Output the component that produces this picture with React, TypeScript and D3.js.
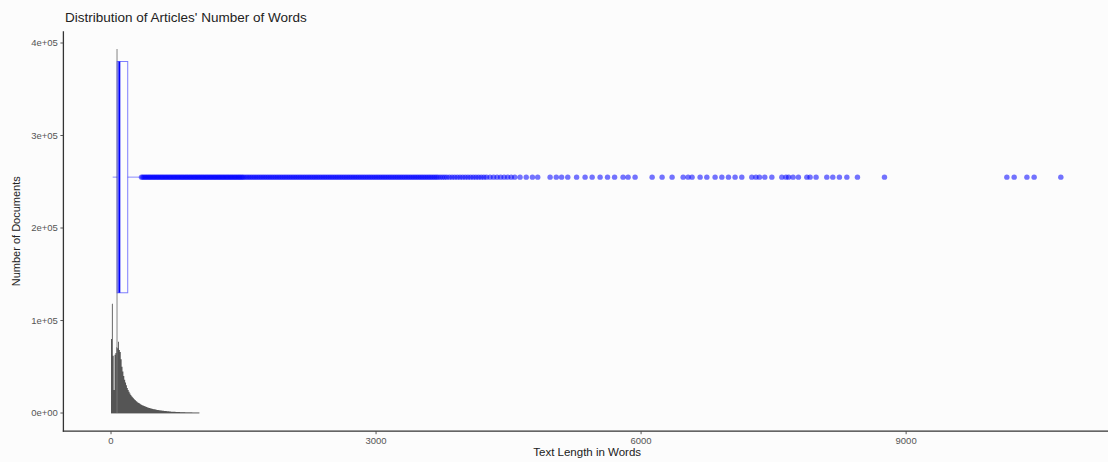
import React from "react";
import * as d3 from "d3";

// Histogram: counts per 10-word bin, from 0 to 1000 words
const binWidth = 10;
const histCounts = [
  80000, 118000, 62000, 25000, 63000, 65000, 71000, 70000, 77000, 68000,
  66000, 58000, 50000, 45000, 40000, 36000, 33000, 30000, 27000, 25000,
  23000, 21000, 19500, 18000, 17000, 16000, 15000, 14000, 13000, 12200,
  11500, 10800, 10200, 9600, 9000, 8500, 8000, 7600, 7200, 6800,
  6400, 6100, 5800, 5500, 5200, 4900, 4600, 4400, 4200, 4000,
  3800, 3600, 3400, 3250, 3100, 2950, 2800, 2650, 2500, 2400,
  2300, 2200, 2100, 2000, 1900, 1800, 1700, 1600, 1500, 1450,
  1400, 1300, 1250, 1200, 1150, 1100, 1050, 1000, 950, 900,
  850, 800, 760, 720, 680, 640, 600, 570, 540, 510,
  480, 450, 420, 400, 380, 360, 340, 320, 300, 280,
];

// Boxplot summary (text length in words), drawn horizontally at y = boxCenter
const boxStats = { lower: 19, q1: 70, median: 94, q3: 189, upper: 328 };
const boxBottom = 130000;
const boxTop = 380000;
const boxCenter = 255000;
const refLineX = 68;
const refLineTop = 393500;

// Outliers (words)
const outliersDense = [
  345, 360, 375, 390, 405, 420, 435, 450, 465, 480, 495, 510, 525, 540, 555, 570,
  585, 600, 615, 630, 645, 660, 675, 690, 705, 720, 735, 750, 765, 780, 795, 810,
  825, 840, 855, 870, 885, 900, 915, 930, 945, 960, 975, 990, 1005, 1020, 1035,
  1050, 1065, 1080, 1095, 1110, 1125, 1140, 1155, 1170, 1185, 1200, 1215, 1230,
  1245, 1260, 1275, 1290, 1305, 1320, 1335, 1350, 1365, 1380, 1395, 1410, 1425,
  1440, 1455, 1470, 1485, 1500, 1520, 1540, 1560, 1580, 1600, 1620, 1640, 1660,
  1680, 1700, 1720, 1740, 1760, 1780, 1800, 1820, 1840, 1860, 1880, 1900, 1920,
  1940, 1960, 1980, 2000, 2020, 2040, 2060, 2080, 2100, 2120, 2140, 2160, 2180,
  2200, 2220, 2240, 2260, 2280, 2300, 2320, 2340, 2360, 2380, 2400, 2420, 2440,
  2460, 2480, 2500, 2520, 2540, 2560, 2580, 2600, 2620, 2640, 2660, 2680, 2700,
  2720, 2740, 2760, 2780, 2800, 2820, 2840, 2860, 2880, 2900, 2920, 2940, 2960,
  2980, 3000, 3020, 3040, 3060, 3080, 3100, 3120, 3140, 3160, 3180, 3200, 3220,
  3240, 3260, 3280, 3300, 3320, 3340, 3360, 3380, 3400, 3420, 3440, 3460, 3480,
  3500, 3520, 3540, 3560, 3580, 3600, 3620, 3640, 3660, 3680, 3700, 3725, 3750,
  3775, 3800, 3830, 3860, 3890, 3920, 3950, 3980, 4010, 4040, 4070, 4100, 4130,
  4160, 4190, 4220, 4250, 4290, 4330, 4370, 4410, 4450, 4490, 4530, 4570,
];
const outliersSparse = [
  4630, 4700, 4770, 4830, 4970, 5040, 5100, 5170, 5270, 5366, 5446, 5536, 5620,
  5700, 5796, 5853, 5932, 6125, 6238, 6351, 6476, 6532, 6577, 6668, 6744, 6838,
  6914, 6989, 7064, 7140, 7253, 7300, 7340, 7400, 7480, 7593, 7640, 7670, 7720,
  7781, 7876, 7913, 7981, 8102, 8170, 8245, 8329, 8449, 8755, 10140, 10223,
  10367, 10449, 10751,
];

const xTicks = [0, 3000, 6000, 9000];
const yTicks = [0, 100000, 200000, 300000, 400000];
const yTickLabels = ["0e+00", "1e+05", "2e+05", "3e+05", "4e+05"];

const title = "Distribution of Articles' Number of Words";
const xTitle = "Text Length in Words";
const yTitle = "Number of Documents";

export default function App() {
  const W = 1108;
  const H = 462;
  const left = 63.4;
  const right = 1111;
  const top = 31.3;
  const bottom = 431.2;

  const x = d3.scaleLinear().domain([-539, 11319]).range([left, right]);
  const y = d3.scaleLinear().domain([-19650, 412650]).range([bottom, top]);

  const font = "'Liberation Sans', Arial, Helvetica, sans-serif";
  const outliers = [...outliersDense, ...outliersSparse];

  // histogram as one step-shaped path (avoids hairline gaps between thin bars)
  const p = d3.path();
  p.moveTo(x(0), y(0));
  histCounts.forEach((c, i) => {
    p.lineTo(x(i * binWidth), y(c));
    p.lineTo(x((i + 1) * binWidth), y(c));
  });
  p.lineTo(x(histCounts.length * binWidth), y(0));
  p.closePath();

  return (
    <svg
      width={W}
      height={H}
      style={{ position: "absolute", left: 0, top: 0, background: "#fcfcfc" }}
      fontFamily={font}
    >
      <rect x={0} y={0} width={W} height={H} fill="#fcfcfc" />

      {/* histogram */}
      <path d={p.toString()} fill="#555555" />
      <line
        x1={x(0)}
        x2={x(histCounts.length * binWidth)}
        y1={y(0)}
        y2={y(0)}
        stroke="#555555"
        strokeWidth={0.8}
      />

      {/* reference line */}
      <line
        x1={x(refLineX)}
        x2={x(refLineX)}
        y1={y(refLineTop)}
        y2={y(0)}
        stroke="#777777"
        strokeWidth={0.9}
      />

      {/* boxplot */}
      <g>
        <line
          x1={x(boxStats.lower)}
          x2={x(boxStats.q1)}
          y1={y(boxCenter)}
          y2={y(boxCenter)}
          stroke="#0000ff"
          strokeOpacity={0.45}
          strokeWidth={1}
        />
        <line
          x1={x(boxStats.q3)}
          x2={x(boxStats.upper)}
          y1={y(boxCenter)}
          y2={y(boxCenter)}
          stroke="#0000ff"
          strokeOpacity={0.45}
          strokeWidth={1}
        />
        <rect
          x={x(boxStats.q1)}
          width={x(boxStats.q3) - x(boxStats.q1)}
          y={y(boxTop)}
          height={y(boxBottom) - y(boxTop)}
          fill="none"
          stroke="#0000ff"
          strokeOpacity={0.5}
          strokeWidth={1}
        />
        <line
          x1={x(boxStats.median)}
          x2={x(boxStats.median)}
          y1={y(boxTop)}
          y2={y(boxBottom)}
          stroke="#0000ff"
          strokeWidth={2}
        />
      </g>

      {/* outliers */}
      <g fill="#0000ff" fillOpacity={0.55}>
        {outliers.map((v, i) => (
          <circle key={i} cx={x(v)} cy={y(boxCenter)} r={2.7} />
        ))}
      </g>

      {/* axes */}
      <line x1={left} x2={left} y1={top} y2={bottom + 0.6} stroke="#333" strokeWidth={1.3} />
      <line x1={left - 0.6} x2={W} y1={bottom} y2={bottom} stroke="#333" strokeWidth={1.3} />

      {yTicks.map((t, i) => (
        <g key={t}>
          <line x1={left - 3} x2={left} y1={y(t)} y2={y(t)} stroke="#444" strokeWidth={0.9} />
          <text
            x={left - 5.5}
            y={y(t)}
            dy="0.34em"
            textAnchor="end"
            fontSize={9.5}
            fill="#555"
          >
            {yTickLabels[i]}
          </text>
        </g>
      ))}

      {xTicks.map((t) => (
        <g key={t}>
          <line x1={x(t)} x2={x(t)} y1={bottom} y2={bottom + 3} stroke="#444" strokeWidth={0.9} />
          <text x={x(t)} y={bottom + 13} textAnchor="middle" fontSize={9.5} fill="#555">
            {t}
          </text>
        </g>
      ))}

      <text x={(left + right) / 2} y={456} textAnchor="middle" fontSize={11.5} fill="#222">
        {xTitle}
      </text>
      <text
        transform={`translate(20, ${(top + bottom) / 2}) rotate(-90)`}
        textAnchor="middle"
        fontSize={11}
        fill="#222"
      >
        {yTitle}
      </text>

      <text x={65} y={22} fontSize={13.5} fill="#222">
        {title}
      </text>
    </svg>
  );
}
